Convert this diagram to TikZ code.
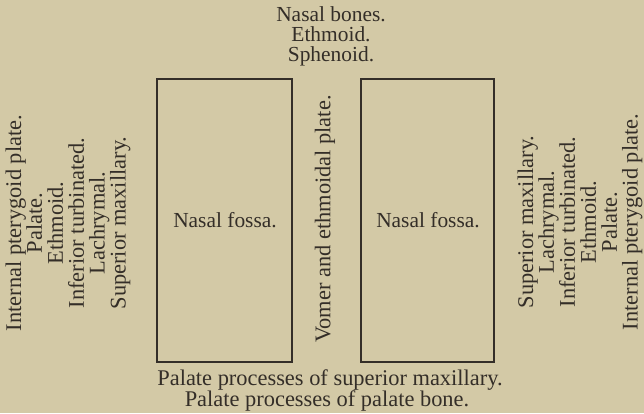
\documentclass[tikz,border=0pt]{standalone}
\usepackage{fontspec}
\setmainfont{Liberation Serif}
\definecolor{paper}{RGB}{211,201,166}
\definecolor{ink}{RGB}{52,46,40}
\begin{document}
\begin{tikzpicture}[x=1bp,y=-1bp,
  lbl/.style={text=ink,font=\fontsize{22.5}{21}\selectfont,inner sep=0pt,align=center},
  vlbl/.style={lbl,rotate=90},
  fossa/.style={draw=ink,line width=1.3bp}]
\fill[paper] (0,0) rectangle (644,413);
\useasboundingbox (0,0) rectangle (644,413);
% boxes
\draw[fossa] (157,79) rectangle (292,362);
\draw[fossa] (361,79) rectangle (494,362);
\node[lbl,font=\fontsize{21.5}{21}\selectfont] (lf) at (225,220) {Nasal fossa.};
\node[lbl,font=\fontsize{21.5}{21}\selectfont] (rf) at (428,220) {Nasal fossa.};
\node[vlbl] (vom) at (325,219) {Vomer and ethmoidal plate.};
% top
\node[lbl,font=\fontsize{21.5}{20.2}\selectfont] (top) at (331,36) {Nasal bones.\\Ethmoid.\\Sphenoid.};
% bottom
\node[lbl] (b1) at (330,380) {Palate processes of superior maxillary.};
\node[lbl] (b2) at (327,401) {Palate processes of palate bone.};
% sides
\node[vlbl] (left) at (68,223) {Internal pterygoid plate.\\Palate.\\Ethmoid.\\Inferior turbinated.\\Lachrymal.\\Superior maxillary.};
\node[vlbl] (right) at (580,222) {Superior maxillary.\\Lachrymal.\\Inferior turbinated.\\Ethmoid.\\Palate.\\Internal pterygoid plate.};
\end{tikzpicture}
\end{document}
